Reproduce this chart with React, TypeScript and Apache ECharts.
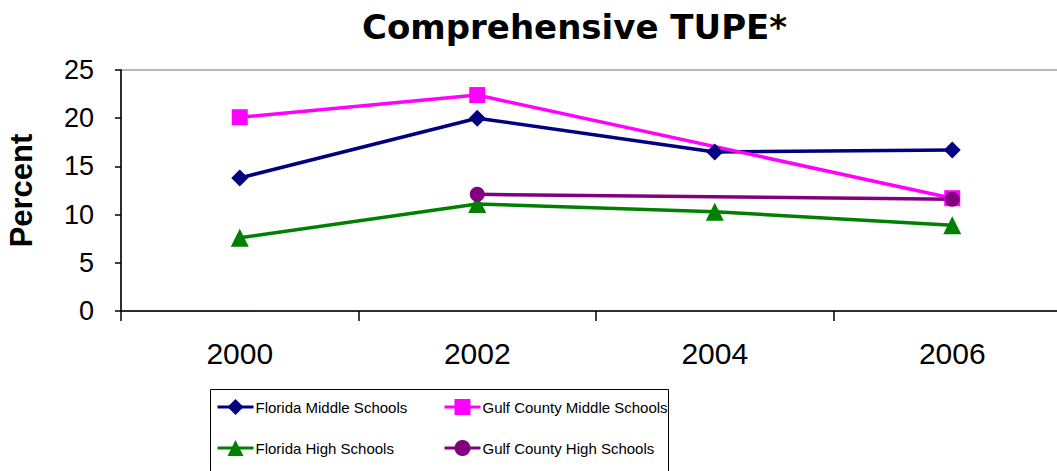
import React, { useEffect, useRef } from "react";
import * as echarts from "echarts";

const years = ["2000", "2002", "2004", "2006"];
const floridaMiddle = [13.8, 20.0, 16.5, 16.7];
const gulfMiddle = [20.1, 22.4, null, 11.7];
const floridaHigh = [7.6, 11.1, 10.3, 8.9];
const gulfHigh = [null, 12.1, null, 11.6];
const yTicks = { min: 0, max: 25, interval: 5 };

const FONT = "'Liberation Sans', Arial, sans-serif";
const LEG_FONT = "'Liberation Sans', Arial, sans-serif";

export default function App() {
  const ref = useRef<HTMLDivElement>(null);
  useEffect(() => {
    if (!ref.current) return;
    const chart = echarts.init(ref.current, null, { renderer: "svg" });
    const mk = (name: string, data: (number | null)[], color: string, symbol: string, size: number) => ({
      name,
      type: "line",
      data,
      connectNulls: true,
      symbol,
      symbolSize: size,
      lineStyle: { color, width: 3.5 },
      itemStyle: { color },
      z: 3,
    });
    const legendCommon = {
      orient: "horizontal",
      padding: 0,
      itemWidth: 36,
      itemHeight: 20,
      itemGap: 0,
      lineStyle: { width: 3 },
      textStyle: { fontFamily: LEG_FONT, fontSize: 15, color: "#000", padding: [0, 0, 0, -3] },
      selectedMode: false,
    };
    chart.setOption({
      animation: false,
      backgroundColor: "#fff",
      title: {
        text: "Comprehensive TUPE*",
        left: 362,
        top: 10,
        padding: 0,
        textStyle: { fontFamily: "'DejaVu Sans', sans-serif", fontWeight: "bold", fontSize: 34, color: "#000" },
      },
      grid: {
        left: 121,
        top: 70,
        bottom: 160,
        right: -14,
        outerBoundsMode: "none",
        show: true,
        borderColor: "#a0a0a0",
        borderWidth: 1.5,
        containLabel: false,
      },
      xAxis: {
        type: "category",
        data: years,
        boundaryGap: true,
        axisLine: { lineStyle: { color: "#000", width: 1.5 } },
        axisTick: { show: true, length: 10, inside: false, lineStyle: { color: "#000", width: 1.5 } },
        axisLabel: { fontFamily: FONT, fontSize: 30, color: "#000", margin: 27 },
      },
      yAxis: {
        type: "value",
        min: yTicks.min,
        max: yTicks.max,
        interval: yTicks.interval,
        name: "Percent",
        nameLocation: "middle",
        nameRotate: 90,
        nameGap: 84,
        nameTextStyle: { fontFamily: FONT, fontWeight: "bold", fontSize: 31, color: "#000" },
        splitLine: { show: false },
        axisLine: { show: true, lineStyle: { color: "#000", width: 1.5 } },
        axisTick: { show: true, length: 6, lineStyle: { color: "#000", width: 1.5 } },
        axisLabel: { fontFamily: FONT, fontSize: 27, color: "#000", margin: 27 },
      },
      legend: [
        { ...legendCommon, data: ["Florida Middle Schools"], left: 216, top: 399 },
        { ...legendCommon, data: ["Gulf County Middle Schools"], left: 443, top: 399 },
        { ...legendCommon, data: ["Florida High Schools"], left: 216, top: 440 },
        { ...legendCommon, data: ["Gulf County High Schools"], left: 443, top: 440 },
      ],
      graphic: [
        {
          type: "rect",
          shape: { x: 210.5, y: 389.5, width: 458, height: 100 },
          style: { fill: "none", stroke: "#000", lineWidth: 1 },
          silent: true,
          z: -1,
        },
      ],
      series: [
        mk("Florida Middle Schools", floridaMiddle, "#000080", "diamond", 17),
        mk("Gulf County Middle Schools", gulfMiddle, "#ff00ff", "rect", 16),
        mk("Florida High Schools", floridaHigh, "#008000", "triangle", 18),
        mk("Gulf County High Schools", gulfHigh, "#800080", "circle", 15),
      ],
    });
    return () => chart.dispose();
  }, []);
  return (
    <div
      ref={ref}
      style={{ position: "absolute", left: 0, top: 0, width: 1057, height: 471, overflow: "hidden" }}
    />
  );
}
